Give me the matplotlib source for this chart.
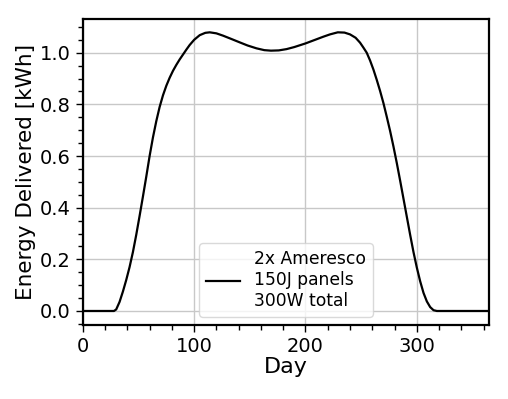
import matplotlib
matplotlib.use("Agg")
import matplotlib.pyplot as plt
from matplotlib.ticker import MultipleLocator, FormatStrFormatter

days = [0, 10, 20, 28, 30, 33, 36, 39, 42, 45, 48, 51, 54, 57, 60, 63, 66, 69, 72, 75, 78, 81, 84, 87,
        90, 93, 96, 100, 105, 110, 114, 120, 126, 133, 141, 148, 156, 163, 169, 176, 183, 190,
        200, 208, 216, 222, 229, 235, 240, 245, 249, 252, 255, 258, 261, 264, 267, 270, 273, 276,
        279, 282, 285, 288, 291, 294, 297, 300, 303, 306, 309, 312, 315, 318, 330, 345, 365]
energy = [0.0, 0.0, 0.0, 0.0, 0.006, 0.035, 0.075, 0.12, 0.17, 0.228, 0.295, 0.368, 0.443, 0.52,
          0.6, 0.672, 0.735, 0.79, 0.835, 0.872, 0.903, 0.93, 0.953, 0.974,
          0.993, 1.012, 1.03, 1.05, 1.068, 1.077, 1.079, 1.075, 1.066, 1.054, 1.040, 1.028,
          1.017, 1.010, 1.008, 1.009, 1.014, 1.022,
          1.036, 1.049, 1.062, 1.071, 1.079, 1.078, 1.071, 1.058, 1.039, 1.02, 1.0, 0.97,
          0.935, 0.895, 0.852, 0.805, 0.752, 0.697,
          0.637, 0.573, 0.505, 0.435, 0.365, 0.295, 0.228, 0.168, 0.115, 0.07, 0.037, 0.015,
          0.003, 0.0, 0.0, 0.0, 0.0]

label = "2x Ameresco\n150J panels\n300W total"

fig = plt.figure(figsize=(5.08, 3.99), dpi=100)
ax = fig.add_axes([0.163, 0.185, 0.800, 0.767])

ax.plot(days, energy, color="black", lw=1.6, label=label)

ax.set_xlim(0, 365)
ax.set_ylim(-0.055, 1.13)
ax.xaxis.set_major_locator(MultipleLocator(100))
ax.xaxis.set_minor_locator(MultipleLocator(20))
ax.yaxis.set_major_locator(MultipleLocator(0.2))
ax.yaxis.set_minor_locator(MultipleLocator(0.05))
ax.yaxis.set_major_formatter(FormatStrFormatter("%.1f"))

ax.grid(True, which="major", color="#c8c8c8", lw=1.0)
ax.set_axisbelow(True)

ax.tick_params(which="major", direction="out", length=5, width=1.0, labelsize=14, color="black")
ax.tick_params(which="minor", direction="out", length=3.5, width=1.0, color="black")

for sp in ax.spines.values():
    sp.set_linewidth(1.6)
    sp.set_color("black")

ax.set_xlabel("Day", fontsize=16, labelpad=1)
ax.set_ylabel("Energy Delivered [kWh]", fontsize=15.5, labelpad=3)

ax.legend(loc="lower center", fontsize=12.3, frameon=True, framealpha=0.8,
          edgecolor="#d0d0d0", handlelength=2.0, labelspacing=0.1)

fig.savefig("out.png", dpi=100)
